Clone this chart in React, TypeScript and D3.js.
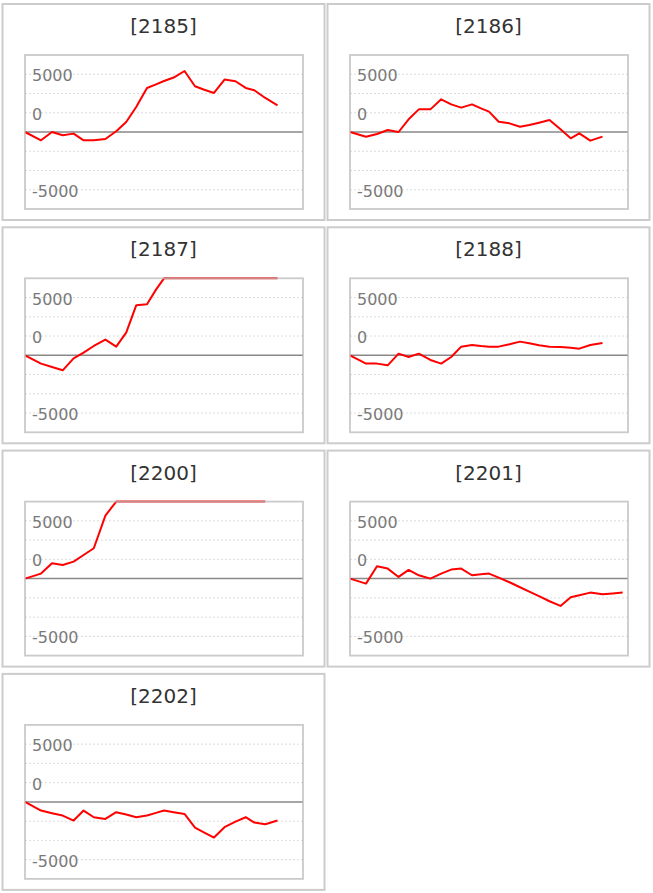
import { scaleLinear, line } from 'd3'

// Seven small P&L panels in a two-column grid, one red line each, fixed
// ±10000 y-range with dashed gridlines and a dark zero line.

const codes = ['2185', '2186', '2187', '2188', '2200', '2201', '2202']

// shared (irregular) time positions of the observations
const periods = [
  0, 1.6, 2.7, 3.77, 4.86, 5.86, 6.88, 8.04, 9.12, 10.12, 11.12, 12.2, 13.1, 13.9,
  14.87, 15.95, 17, 17.93, 18.9, 19.95, 21.05, 22.07, 22.93, 24.03, 25.25, 26.26, 27.27,
]

const v2185 = [
  0, -1080, 0, -430, -210, -1080, -1080, -910, 90, 1300, 3250, 5720, 6190, 6620, 7070,
  7920, 5940, 5480, 5070, 6810, 6590, 5720, 5420, 4420, 3470,
]
const v2186 = [
  0, -606, -260, 260, 0, 1645, 2940, 2940, 4240, 3590, 3160, 3590, 3070, 2640, 1340,
  1125, 690, 910, 1210, 1560, 346, -820, -170, -1125, -606,
]
const v2187 = [
  0, -1080, -1515, -1950, -390, 346, 1210, 2035, 1125, 2940, 6490, 6620, 8530, 10000,
  10000, 10000, 10000, 10000, 10000, 10000, 10000, 10000, 10000, 10000, 10000,
]
const v2188 = [
  0, -1080, -1080, -1300, 216, -216, 216, -606, -1080, -216, 1125, 1340, 1210, 1125,
  1125, 1430, 1775, 1560, 1300, 1125, 1080, 995, 865, 1340, 1600,
]
const v2200 = [
  0, 650, 1990, 1775, 2210, 3070, 3940, 8180, 10000, 10000, 10000, 10000, 10000, 10000,
  10000, 10000, 10000, 10000, 10000, 10000, 10000, 10000, 10000, 10000,
]
const v2201 = [
  0, -650, 1600, 1300, 216, 1125, 433, 0, 650, 1170, 1300, 433, 560, 650, 130, -476,
  -1125, -1690, -2270, -2940, -3550, -2420, -2165, -1820, -2035, -1925, -1820,
]
const v2202 = [
  0, -1125, -1470, -1775, -2425, -1125, -1990, -2210, -1340, -1645, -1990, -1775, -1430,
  -1125, -1340, -1560, -3330, -3980, -4630, -3290, -2555, -1990, -2685, -2900, -2425,
]
const seriesValues = [v2185, v2186, v2187, v2188, v2200, v2201, v2202]

const yDomain = [-10000, 10000]
const xDomain = [0, 27.8]
const gridValues = [7500, 5000, 2500, -2500, -5000, -7500]
const labelValues = [7500, 2500, -7500]
const labelTexts = ['5000', '0', '-5000']

const FONT = '"DejaVu Sans", Verdana, sans-serif'

function Panel({ code, values, left, top }: { code: string; values: number[]; left: number; top: number }) {
  const pw = 322
  const ph = 216
  const m = { left: 22.5, top: 51, w: 278, h: 154 }
  const x = scaleLinear().domain(xDomain).range([m.left, m.left + m.w])
  const y = scaleLinear().domain(yDomain).range([m.top + m.h, m.top])
  const path = line<number>()
    .x((_, i) => x(periods[i]))
    .y((d) => y(d))(values)

  return (
    <g transform={`translate(${left},${top})`}>
      <rect x={0} y={0} width={pw} height={ph} fill="#fff" stroke="#cccccc" strokeWidth={2} />
      <text x={pw / 2} y={29} textAnchor="middle" fill="#333" fontSize={20} fontFamily={FONT}>
        [{code}]
      </text>
      {gridValues.map((g) => (
        <line
          key={g}
          x1={m.left}
          x2={m.left + m.w}
          y1={y(g)}
          y2={y(g)}
          stroke="#dcdcdc"
          strokeWidth={1}
          strokeDasharray="2,2"
        />
      ))}
      {labelValues.map((v, i) => (
        <text
          key={v}
          x={m.left + 7}
          y={y(v) + 1.5}
          dominantBaseline="central"
          fill="#7a7a7a"
          fontSize={16}
          fontFamily={FONT}
        >
          {labelTexts[i]}
        </text>
      ))}
      <line x1={m.left} x2={m.left + m.w} y1={y(0)} y2={y(0)} stroke="#888" strokeWidth={1.5} />
      {path && <path d={path} fill="none" stroke="#ff0000" strokeWidth={2} strokeLinejoin="round" />}
      <rect
        x={m.left}
        y={m.top}
        width={m.w}
        height={m.h}
        fill="none"
        stroke="#b8b8b8"
        strokeOpacity={0.75}
        strokeWidth={1.8}
      />
    </g>
  )
}

export default function App() {
  return (
    <svg
      width={653}
      height={893}
      viewBox="0 0 653 893"
      style={{ position: 'absolute', left: 0, top: 0, background: '#fff' }}
    >
      {codes.map((c, i) => (
        <Panel
          key={c}
          code={c}
          values={seriesValues[i]}
          left={2.5 + (i % 2) * 325}
          top={4 + Math.floor(i / 2) * 223.3}
        />
      ))}
    </svg>
  )
}
